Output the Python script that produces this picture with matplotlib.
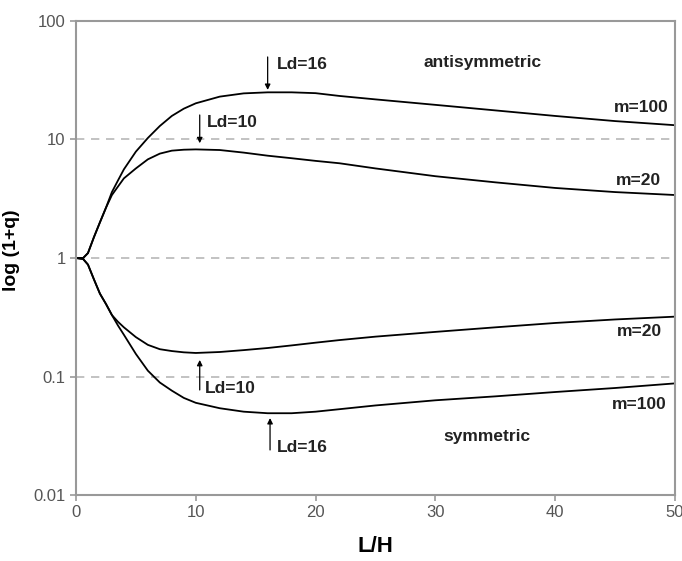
import matplotlib
matplotlib.use("Agg")
import matplotlib.pyplot as plt

plt.rcParams['font.family'] = ['Liberation Sans', 'DejaVu Sans']

# L/H positions
L = [0, 0.6, 1, 1.5, 2, 2.5, 3, 3.5, 4, 5, 6, 7, 8, 9, 10, 12, 14, 16, 18, 20,
     22, 25, 30, 35, 40, 45, 50]

# antisymmetric mode
anti_m100 = [1, 1, 1.1, 1.5, 2.0, 2.65, 3.6, 4.5, 5.6, 7.9, 10.3, 13, 15.8, 18.2,
             20.2, 23, 24.5, 25, 25, 24.6, 23.3, 21.8, 19.6, 17.6, 15.8, 14.3, 13.2]
anti_m20 = [1, 1, 1.1, 1.5, 2.0, 2.65, 3.4, 4.0, 4.7, 5.7, 6.8, 7.6, 8.05, 8.2,
            8.25, 8.15, 7.75, 7.3, 6.95, 6.6, 6.3, 5.7, 4.9, 4.35, 3.9, 3.6, 3.4]

# symmetric mode
sym_m20 = [1, 0.98, 0.88, 0.66, 0.5, 0.41, 0.33, 0.29, 0.26, 0.215, 0.185, 0.17,
           0.164, 0.16, 0.158, 0.161, 0.167, 0.174, 0.183, 0.193, 0.203, 0.217,
           0.238, 0.26, 0.283, 0.303, 0.32]
sym_m100 = [1, 0.98, 0.88, 0.66, 0.5, 0.41, 0.33, 0.27, 0.225, 0.155, 0.112, 0.089,
            0.076, 0.066, 0.06, 0.054, 0.0505, 0.049, 0.049, 0.0505, 0.053, 0.057,
            0.063, 0.068, 0.074, 0.08, 0.0875]

xticks = [0, 10, 20, 30, 40, 50]
yticks = [0.01, 0.1, 1, 10, 100]
ytick_labels = ['0.01', '0.1', '1', '10', '100']

fig = plt.figure(figsize=(6.82, 5.61), dpi=100)
ax = fig.add_axes([0.1114, 0.1176, 0.8783, 0.845])

for y in [anti_m100, anti_m20, sym_m20, sym_m100]:
    ax.plot(L, y, color='black', lw=1.3, solid_joinstyle='round')

ax.set_yscale('log')
ax.set_xlim(0, 50)
ax.set_ylim(0.01, 100)
ax.set_xticks(xticks)
ax.set_yticks(yticks)
ax.set_yticklabels(ytick_labels)
ax.minorticks_off()
for yv in [0.1, 1, 10]:
    ax.axhline(yv, color='#b8b8b8', lw=1.2, ls=(0, (5, 4)), zorder=0)

for s in ax.spines.values():
    s.set_color('#999999')
    s.set_linewidth(1.5)
ax.tick_params(axis='both', colors='#999999', labelcolor='#555555',
               labelsize=12, length=4, width=1.2)

ax.set_xlabel('L/H', fontsize=16, fontweight='bold')
ax.xaxis.set_label_coords(0.5, -0.086)
ax.set_ylabel('log (1+q)', fontsize=14, fontweight='bold')
ax.yaxis.set_label_coords(-0.093, 0.517)

arrow = dict(arrowstyle='-|>', color='black', lw=0.9, mutation_scale=8,
             shrinkA=0, shrinkB=0)
tk = dict(fontsize=12.5, fontweight='bold', color='#222222')

# Ld markers
ax.annotate('', xy=(16, 26.2), xytext=(16, 49.7), arrowprops=arrow)
ax.text(16.8, 43, 'Ld=16', ha='left', va='center', **tk)
ax.annotate('', xy=(10.33, 9.3), xytext=(10.33, 16.1), arrowprops=arrow)
ax.text(10.9, 14, 'Ld=10', ha='left', va='center', **tk)
ax.annotate('', xy=(10.33, 0.138), xytext=(10.33, 0.077), arrowprops=arrow)
ax.text(10.8, 0.08, 'Ld=10', ha='left', va='center', **tk)
ax.annotate('', xy=(16.2, 0.0446), xytext=(16.2, 0.024), arrowprops=arrow)
ax.text(16.75, 0.0254, 'Ld=16', ha='left', va='center', **tk)

ax.text(33.9, 45, 'antisymmetric', ha='center', va='center', **tk)
ax.text(34.3, 0.031, 'symmetric', ha='center', va='center', **tk)

ax.text(49.5, 18.8, 'm=100', ha='right', va='center', **tk)
ax.text(48.8, 4.55, 'm=20', ha='right', va='center', **tk)
ax.text(48.9, 0.238, 'm=20', ha='right', va='center', **tk)
ax.text(49.3, 0.0575, 'm=100', ha='right', va='center', **tk)

fig.savefig('out.png', dpi=100)
